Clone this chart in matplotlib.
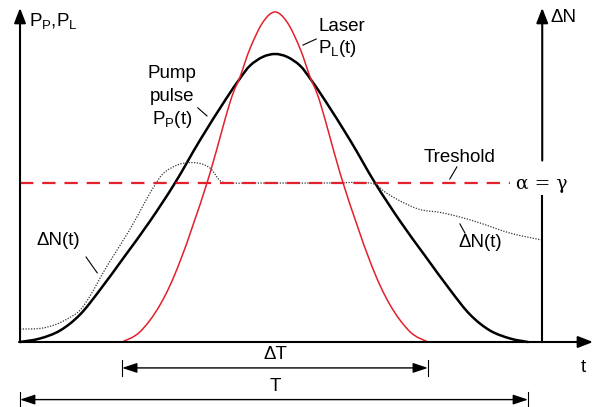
"""
Pump pulse, laser pulse and inversion vs time (schematic)
"""

import numpy as np
import matplotlib
matplotlib.use("Agg")
import matplotlib.pyplot as plt
from matplotlib.path import Path
from matplotlib.patches import PathPatch

plt.rcParams["font.family"] = ["Liberation Sans", "DejaVu Sans"]
plt.rcParams["mathtext.fontset"] = "custom"
plt.rcParams["mathtext.rm"] = "Liberation Sans"
plt.rcParams["mathtext.it"] = "Liberation Sans"

RED = "#e3202b"

# time axis: 0 = start of pump pulse, 1 = end of pump pulse (T)
# powers: 1 = pump peak
pump_t = [0.0, 0.039, 0.079, 0.118, 0.157, 0.207, 0.256, 0.305, 0.354, 0.404,
          0.433, 0.453, 0.478, 0.502, 0.526, 0.551, 0.571, 0.600, 0.650, 0.699,
          0.748, 0.797, 0.847, 0.886, 0.925, 0.965, 1.0]
pump_p = [0.0, 0.012, 0.04, 0.095, 0.18, 0.30, 0.42, 0.552, 0.70, 0.84,
          0.915, 0.96, 0.99, 1.0, 0.99, 0.96, 0.915, 0.84, 0.70, 0.552,
          0.42, 0.30, 0.18, 0.095, 0.04, 0.012, 0.0]

laser_t = [0.201, 0.236, 0.276, 0.315, 0.368, 0.413, 0.433, 0.453, 0.478, 0.502,
           0.526, 0.551, 0.571, 0.591, 0.636, 0.689, 0.728, 0.768, 0.803]
laser_p = [0.0, 0.035, 0.13, 0.28, 0.552, 0.83, 0.92, 1.02, 1.11, 1.146,
           1.11, 1.02, 0.92, 0.83, 0.552, 0.28, 0.13, 0.035, 0.0]

dn_t = [0.0, 0.039, 0.069, 0.098, 0.118, 0.138, 0.157, 0.177, 0.216, 0.246,
        0.268, 0.285, 0.315, 0.348, 0.374, 0.394, 0.413, 0.453, 0.500, 0.600,
        0.689, 0.719, 0.748, 0.787, 0.827, 0.866, 0.906, 0.965, 1.028]
dn_p = [0.045, 0.047, 0.06, 0.085, 0.11, 0.16, 0.22, 0.28, 0.39, 0.486,
        0.552, 0.59, 0.618, 0.622, 0.604, 0.56, 0.552, 0.552, 0.552, 0.552,
        0.552, 0.52, 0.49, 0.46, 0.45, 0.434, 0.413, 0.378, 0.354]

threshold = 0.552
delta_t = (0.201, 0.803)
period = (0.0, 1.0)


def smooth_curve(ax, xs, ys, **kw):
    # Catmull-Rom through the read points, drawn as cubic Bezier segments
    p = np.column_stack([xs, ys])
    pts = np.vstack([p[0], p, p[-1]])
    verts = [p[0]]
    codes = [Path.MOVETO]
    for i in range(1, len(pts) - 2):
        p0, p1, p2, p3 = pts[i - 1], pts[i], pts[i + 1], pts[i + 2]
        verts += [p1 + (p2 - p0) / 6, p2 - (p3 - p1) / 6, p2]
        codes += [Path.CURVE4] * 3
    ax.add_patch(PathPatch(Path(verts, codes), fill=False, **kw))


fig = plt.figure(figsize=(5.94, 4.07), dpi=100)
ax = fig.add_axes([0, 0, 1, 1])
ax.set_xlim(-0.0394, 1.1299)
ax.set_ylim(-0.2257, 1.1875)
ax.axis("off")

# curves
smooth_curve(ax, pump_t, pump_p, color="black", lw=1.8, capstyle="round")
smooth_curve(ax, laser_t, laser_p, color=RED, lw=1.1)
smooth_curve(ax, dn_t, dn_p, color="#333333", lw=0.9, ls=(0, (1, 1.2)))
ax.plot([0, 0.965], [threshold, threshold], color=RED, lw=1.6, ls=(0, (6, 4)))

# axes with arrow heads
arrow = dict(arrowstyle="-|>,head_length=0.9,head_width=0.35", color="black",
             lw=1.5, shrinkA=0, shrinkB=0)
ax.annotate("", xy=(0, 1.16), xytext=(0, 0), arrowprops=arrow)
ax.annotate("", xy=(1.128, 0), xytext=(-0.002, 0), arrowprops=arrow)
ax.annotate("", xy=(1.028, 1.16), xytext=(1.028, 0.63), arrowprops=arrow)
ax.plot([1.028, 1.028], [0, 0.507], color="black", lw=1.5)

# dimension arrows
dim = dict(arrowstyle="<|-|>,head_length=0.9,head_width=0.3", color="black",
           lw=1.0, shrinkA=0, shrinkB=0)
for (a, b), y in [(delta_t, -0.09), (period, -0.2)]:
    ax.annotate("", xy=(b, y), xytext=(a, y), arrowprops=dim)
    for x in (a, b):
        ax.plot([x, x], [y - 0.027, y + 0.027], color="black", lw=0.8)

fs = 13.5
ax.text(0.017, 1.115, r"$\mathregular{P_P}$,$\mathregular{P_L}$", fontsize=fs, va="center")
ax.text(1.045, 1.125, "ΔN", fontsize=fs, va="center")
ax.text(0.587, 1.097, "Laser", fontsize=fs, ha="left", va="center")
ax.text(0.587, 1.02, r"$\mathregular{P_L(t)}$", fontsize=fs, ha="left", va="center")
ax.plot([0.583, 0.557], [1.052, 1.031], color="black", lw=0.8)

ax.text(0.30, 0.934, "Pump", fontsize=fs, ha="center", va="center")
ax.text(0.30, 0.851, "pulse", fontsize=fs, ha="center", va="center")
ax.text(0.30, 0.771, r"$\mathregular{P_P(t)}$", fontsize=fs, ha="center", va="center")
ax.plot([0.35, 0.368], [0.813, 0.785], color="black", lw=0.8)

ax.text(0.866, 0.642, "Treshold", fontsize=fs, ha="center", va="center")
ax.plot([0.860, 0.846], [0.608, 0.566], color="black", lw=0.8)
ax.text(1.028, 0.549, "α = γ", fontsize=fs, ha="center", va="center",
        family=["DejaVu Serif", "DejaVu Sans"])

ax.text(0.075, 0.354, "ΔN(t)", fontsize=fs, ha="center", va="center")
ax.plot([0.13, 0.152], [0.295, 0.24], color="black", lw=0.8)
ax.text(0.906, 0.344, "ΔN(t)", fontsize=fs, ha="center", va="center")
ax.plot([0.866, 0.876], [0.41, 0.378], color="black", lw=0.8)

ax.text(0.502, -0.045, "ΔT", fontsize=fs, ha="center", va="center")
ax.text(0.502, -0.155, "T", fontsize=fs, ha="center", va="center")
ax.text(1.108, -0.09, "t", fontsize=fs, ha="center", va="center")

fig.savefig("out.png", dpi=100)
